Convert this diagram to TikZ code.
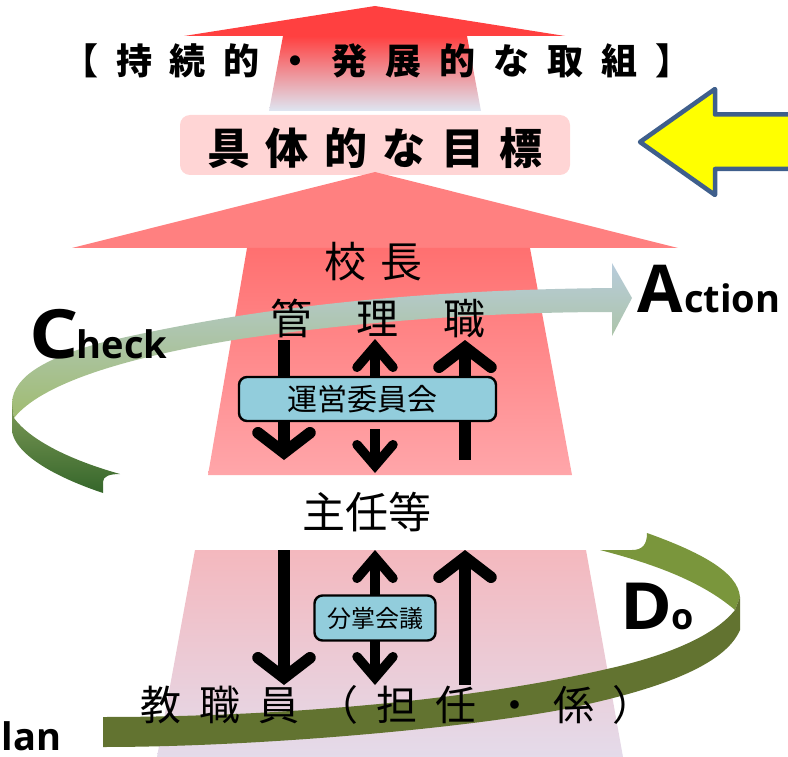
\documentclass[tikz,border=0pt]{standalone}
\usepackage{fontspec}
\usetikzlibrary{arrows.meta,shadings}
\setmainfont{Open Sans}
\newfontfamily\capwide[FakeStretch=1.14]{Open Sans}
\newfontfamily\capmid[FakeStretch=1.08]{Open Sans}
\newfontfamily\cjk{Noto Sans CJK JP}
\newfontfamily\cjkA[LetterSpace=50]{Noto Sans CJK JP}
\newfontfamily\cjkB[LetterSpace=36]{Noto Sans CJK JP}
\newfontfamily\cjkC[LetterSpace=33]{Noto Sans CJK JP}
\newfontfamily\cjkD[LetterSpace=105]{Noto Sans CJK JP}
\newfontfamily\cjkE[LetterSpace=44]{Noto Sans CJK JP}
\definecolor{boxblue}{HTML}{92CDDC}
\definecolor{ribbonDo}{HTML}{7A963C}
\definecolor{ribbonDoDark}{HTML}{627330}
\definecolor{pureyellow}{rgb}{1,1,0}
\definecolor{headred}{RGB}{255,64,64}
\definecolor{mainred}{RGB}{255,128,128}
\tikzset{
  x=1pt,y=-1pt,
  lbl/.style={inner sep=0pt,outer sep=0pt,anchor=center,text=black},
  meeting/.style={draw=black,line width=2.4pt,rounded corners=8pt,fill=boxblue,inner sep=0pt,text=black},
  bigdown/.style={line width=11.5pt,line cap=butt,-{Straight Barb[length=20pt,width=52pt,line cap=round]}},
  smalldown/.style={line width=9.5pt,line cap=butt,-{Straight Barb[length=21pt,width=36pt,line cap=round]}},
  latin/.style={inner sep=0pt,outer sep=0pt,anchor=base west,text=black,font=\bfseries},
}
\begin{document}
\begin{tikzpicture}
\useasboundingbox (0,0) rectangle (788,757);
\clip (0,0) rectangle (788,757);
% top arrow
\shade[top color=headred,middle color={rgb,255:red,240;green,170;blue,180},bottom color={rgb,255:red,222;green,230;blue,242}] (283,36) -- (467,36) -- (481,111) -- (269,111) -- cycle;
\fill[headred] (184,36) -- (375,6) -- (565,36) -- cycle;
% target box
\node[fill={rgb,255:red,255;green,213;blue,213},rounded corners=10pt,minimum width=390pt,minimum height=60pt,inner sep=0pt] (target) at (375,145) {};
% main arrow
\fill[mainred] (72,248) -- (375,172) -- (678,248) -- cycle;
\shade[top color={rgb,255:red,255;green,112;blue,112},bottom color={rgb,255:red,255;green,166;blue,170}] (247,248) -- (530,248) -- (572,475) -- (208,475) -- cycle;
\shade[top color={rgb,255:red,244;green,184;blue,190},bottom color={rgb,255:red,228;green,219;blue,234}] (195,550) -- (586,550) -- (623,757) -- (157,757) -- cycle;
\node[lbl,font=\cjkB\bfseries\fontsize{43}{43}\selectfont] (targettext) at (375,148) {具体的な目標};
\node[lbl,font=\cjkA\bfseries\fontsize{36}{36}\selectfont] (sustain) at (377,61) {【持続的・発展的な取組】};
% yellow arrow
\draw[draw={rgb,255:red,63;green,95;blue,140},line width=4.5pt,line join=round,fill=pureyellow] (640,142) -- (715,89) -- (715,114.5) -- (800,114.5) -- (800,169) -- (715,169) -- (715,195) -- cycle;
% ribbons
\shade[top color={rgb,255:red,184;green,204;blue,220},middle color={rgb,255:red,171;green,196;blue,176},bottom color={rgb,255:red,160;green,188;blue,112}]
 (612,263) -- (632,298) -- (612,336) -- (612,312) .. controls (500,312) and (370,320) .. (240,339) .. controls (120,358) and (40,385) .. (14,418) -- (12,403) .. controls (13,375) and (50,357) .. (100,343) .. controls (240,310) and (400,290) .. (612,288) -- cycle;
\shade[top color={rgb,255:red,126;green,154;blue,88},bottom color={rgb,255:red,53;green,102;blue,42}]
 (12,403) -- (14,418) .. controls (30,440) and (70,460) .. (120,474) .. controls (110,474) and (103,476) .. (103,482) -- (103,493) .. controls (70,482) and (18,460) .. (12,432) -- cycle;
\fill[ribbonDo] (647,533) .. controls (700,552) and (738,572) .. (740,597) -- (735,610) .. controls (700,580) and (650,563) .. (600,550) -- (632,550) .. controls (642,550) and (647,545) .. cycle;
\fill[ribbonDoDark] (740,597) -- (740,630) .. controls (725,665) and (660,690) .. (560,710) .. controls (450,730) and (250,747) .. (103,747) -- (103,717) .. controls (250,717) and (450,705) .. (607,669) .. controls (670,655) and (715,635) .. (735,610) -- cycle;
% labels
\node[lbl,font=\cjkC\fontsize{42}{42}\selectfont] (principal) at (373.5,262) {校長};
\node[lbl,font=\cjkD\fontsize{42}{42}\selectfont] (managers) at (378,318) {管理職};
\node[lbl,font=\cjk\fontsize{43}{43}\selectfont] (chiefs) at (367,512) {主任等};
\node[lbl,font=\cjkE\fontsize{41}{41}\selectfont] (staff) at (397,705) {教職員（担任・係）};
% endpoints
\coordinate (a1s) at (284,340); \coordinate (a1e) at (284,460);
\coordinate (a2s) at (375,400); \coordinate (a2e) at (375,339);
\coordinate (a3s) at (375,429); \coordinate (a3e) at (375,473);
\coordinate (a4s) at (465,460); \coordinate (a4e) at (465,340);
\coordinate (b1s) at (284,550); \coordinate (b1e) at (284,685);
\coordinate (b2s) at (375,618); \coordinate (b2e) at (375,550);
\coordinate (b3s) at (375,618); \coordinate (b3e) at (375,685);
\coordinate (b4s) at (465,685); \coordinate (b4e) at (465,550);
\draw[bigdown] (a1s) -- (a1e);
\draw[smalldown] (a2s) -- (a2e);
\draw[smalldown] (a3s) -- (a3e);
\draw[bigdown] (a4s) -- (a4e);
\draw[bigdown] (b1s) -- (b1e);
\draw[smalldown] (b2s) -- (b2e);
\draw[smalldown] (b3s) -- (b3e);
\draw[bigdown] (b4s) -- (b4e);
\node[meeting,minimum width=257pt,minimum height=44pt] (unei) at (367.5,399) {};
\node[lbl,font=\cjk\fontsize{30}{30}\selectfont] (ueitext) at (362,399) {運営委員会};
\node[meeting,minimum width=121pt,minimum height=45pt] (bunsho) at (375,618) {};
\node[lbl,font=\cjk\fontsize{24}{24}\selectfont] (bunshotext) at (375,618) {分掌会議};
% PDCA
\node[latin] (check) at (30,358) {{\capwide\bfseries\fontsize{68}{68}\selectfont C}\kern-2.4pt\fontsize{38}{38}\selectfont heck};
\node[latin] (action) at (637,312) {{\fontsize{66}{66}\selectfont A}\kern1.5pt\fontsize{38}{38}\selectfont ction};
\node[latin] (do) at (620,629) {{\capmid\bfseries\fontsize{65}{65}\selectfont D}\fontsize{36}{36}\selectfont o};
\node[latin,font=\bfseries\fontsize{38}{38}\selectfont] (plan) at (1.5,750) {lan};
\end{tikzpicture}
\end{document}
